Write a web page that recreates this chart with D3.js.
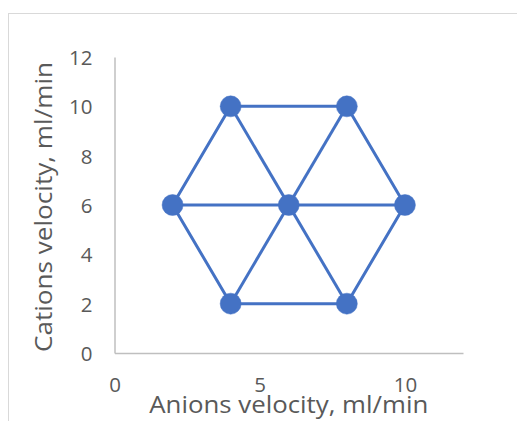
<!DOCTYPE html>
<html><head><meta charset="utf-8">
<script src="https://cdn.jsdelivr.net/npm/d3@7"></script>
<style>html,body{margin:0;padding:0;background:#fff;overflow:hidden}</style>
</head><body>
<svg id="chart" width="517" height="421"></svg>
<script>
// Data
const pointX = [2, 4, 8, 10, 8, 4, 6];
const pointY = [6, 10, 10, 6, 2, 2, 6];
const hexX = [2, 4, 8, 10, 8, 4, 2];
const hexY = [6, 10, 10, 6, 2, 2, 6];
const diagX = [[2, 10], [4, 8], [8, 4]];
const diagY = [[6, 6], [10, 2], [10, 2]];
const xTicks = [0, 5, 10];
const yTicks = [0, 2, 4, 6, 8, 10, 12];
const xTitle = "Anions velocity, ml/min";
const yTitle = "Cations velocity, ml/min";

(function () {
const svg = d3.select("#chart");
const mLeft = 114.5, mRight = 463, mTop = 57, mBottom = 353;
const x = d3.scaleLinear().domain([0, 12]).range([mLeft, mRight]);
const y = d3.scaleLinear().domain([0, 12]).range([mBottom, mTop]);
const blue = "#4472C4";
const font = "'Open Sans', Lato, sans-serif";

// chart border
svg.append("rect").attr("x", 8.5).attr("y", 13.5).attr("width", 600).attr("height", 500)
  .attr("fill", "#fff").attr("stroke", "#d9d9d9").attr("stroke-width", 1);

// axes
const xAxis = svg.append("g").attr("transform", `translate(0,${mBottom})`)
  .call(d3.axisBottom(x).tickValues(xTicks).tickSize(0).tickPadding(0));
xAxis.selectAll("text").attr("y", 39).attr("dy", null);
const yAxis = svg.append("g").attr("transform", `translate(${mLeft},0)`)
  .call(d3.axisLeft(y).tickValues(yTicks).tickSize(0).tickPadding(22));
yAxis.selectAll("text").attr("dy", "0.36em");
[xAxis, yAxis].forEach(g => {
  g.select(".domain").attr("stroke", "#bfbfbf").attr("stroke-width", 1.5);
  g.selectAll("text").attr("fill", "#595959").style("font-family", font).style("font-size", "20.5px");
});

// lines
const line = d3.line().x(d => x(d[0])).y(d => y(d[1]));
const paths = [d3.zip(hexX, hexY)].concat(diagX.map((xs, i) => d3.zip(xs, diagY[i])));
svg.append("g").selectAll("path").data(paths).join("path")
  .attr("d", line).attr("fill", "none").attr("stroke", blue)
  .attr("stroke-width", 3).attr("stroke-linejoin", "round");

// markers
svg.append("g").selectAll("circle").data(d3.zip(pointX, pointY)).join("circle")
  .attr("cx", d => x(d[0])).attr("cy", d => y(d[1])).attr("r", 10.5)
  .attr("fill", blue).attr("stroke", blue).attr("stroke-width", 0.5);

// titles
svg.append("text").attr("x", (mLeft + mRight) / 2).attr("y", 413)
  .attr("text-anchor", "middle").attr("fill", "#595959")
  .attr("textLength", 279).attr("lengthAdjust", "spacingAndGlyphs")
  .style("font-family", font).style("font-size", "24px").text(xTitle);
svg.append("text").attr("transform", `translate(52,${(mTop + mBottom) / 2 + 2}) rotate(-90)`)
  .attr("text-anchor", "middle").attr("fill", "#595959")
  .attr("textLength", 290).attr("lengthAdjust", "spacingAndGlyphs")
  .style("font-family", font).style("font-size", "24px").text(yTitle);
})();
</script>
</body></html>
